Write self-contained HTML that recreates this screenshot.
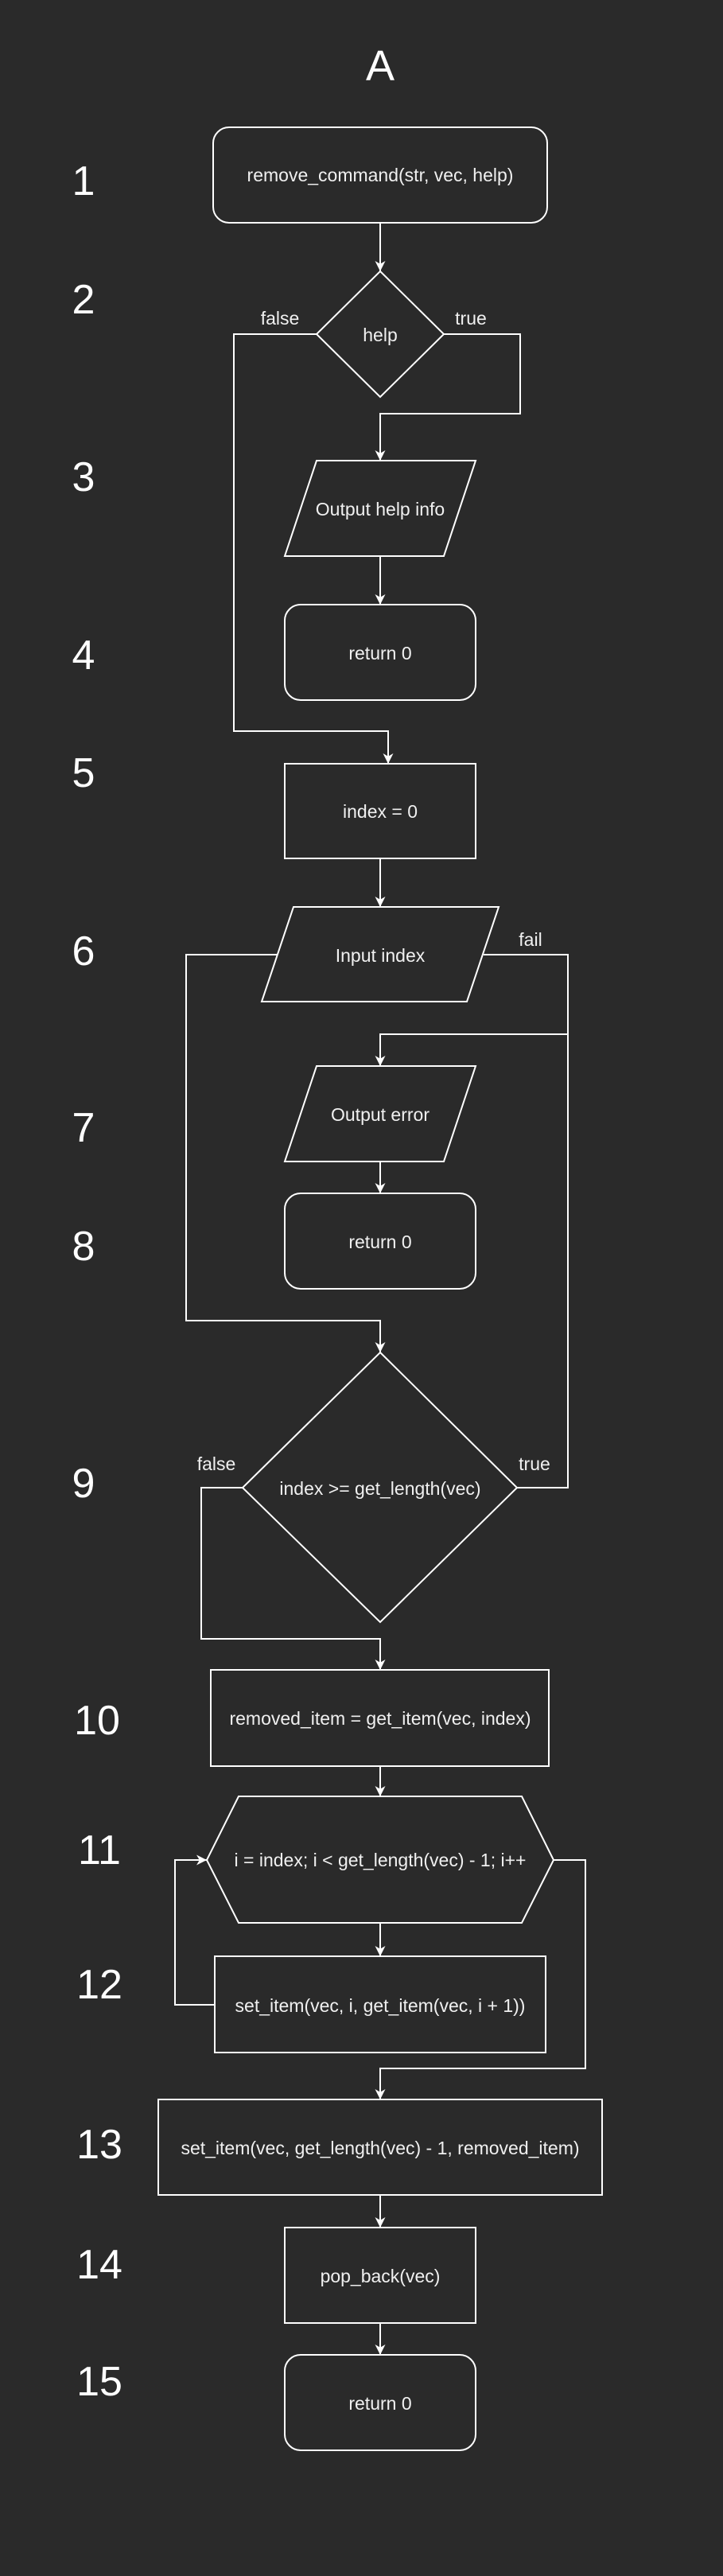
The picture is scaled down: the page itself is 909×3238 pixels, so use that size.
<!DOCTYPE html>
<html><head><meta charset="utf-8"><style>
html,body{margin:0;padding:0;background:#2a2a2a;}
svg{display:block;}
text{font-family:"Liberation Sans",Arial,sans-serif;fill:#f0f0f0;}
.n{font-size:23px;text-anchor:middle;dominant-baseline:central;}
.num{font-size:52px;text-anchor:middle;dominant-baseline:central;fill:#fff;}
.l{font-size:23px;text-anchor:middle;}
</style></head><body>
<svg width="909" height="3238" viewBox="0 0 909 3238" xmlns="http://www.w3.org/2000/svg">
<defs>
<marker id="a" viewBox="0 0 12 12" refX="12" refY="6" markerWidth="13" markerHeight="13" markerUnits="userSpaceOnUse" orient="auto">
<path d="M0,0 L12,6 L0,12 L3.5,6 z" fill="#fff"/>
</marker>
</defs>
<g fill="none" stroke="#fff" stroke-width="2">
<rect x="268" y="160" width="420" height="120" rx="20"/>
<polygon points="478,341 558,420 478,499 398,420"/>
<polygon points="398,579 598,579 558,699 358,699"/>
<rect x="358" y="760" width="240" height="120" rx="20"/>
<rect x="358" y="960" width="240" height="119"/>
<polygon points="369,1140 627,1140 587,1259 329,1259"/>
<polygon points="398,1340 598,1340 558,1460 358,1460"/>
<rect x="358" y="1500" width="240" height="120" rx="20"/>
<polygon points="478,1700 650,1870 478,2039 305,1870"/>
<rect x="265" y="2099" width="425" height="121"/>
<polygon points="300,2258 656,2258 696,2338 656,2417 300,2417 260,2338"/>
<rect x="270" y="2459" width="416" height="121"/>
<rect x="199" y="2639" width="558" height="120"/>
<rect x="358" y="2800" width="240" height="120"/>
<rect x="358" y="2960" width="240" height="120" rx="20"/>
</g>
<g fill="none" stroke="#fff" stroke-width="2" marker-end="url(#a)">
<path d="M478,280 V341"/>
<path d="M398,420 H294 V919 H488 V960"/>
<path d="M558,420 H654 V520 H478 V579"/>
<path d="M478,699 V760"/>
<path d="M478,1079 V1140"/>
<path d="M349,1200 H234 V1660 H478 V1700"/>
<path d="M714,1300 H478 V1340"/>
<path d="M478,1460 V1500"/>
<path d="M305,1870 H253 V2060 H478 V2099"/>
<path d="M478,2220 V2258"/>
<path d="M478,2417 V2459"/>
<path d="M270,2520 H220 V2338 H260"/>
<path d="M696,2338 H736 V2600 H478 V2639"/>
<path d="M478,2759 V2800"/>
<path d="M478,2920 V2960"/>
</g>
<path d="M608,1200 H714 V1870 H650" fill="none" stroke="#fff" stroke-width="2"/>
<text x="478" y="83" class="num" style="font-size:54px">A</text>
<text class="n" x="478" y="220">remove_command(str, vec, help)</text>
<text class="n" x="478" y="421">help</text>
<text class="n" x="478" y="640">Output help info</text>
<text class="n" x="478" y="821">return 0</text>
<text class="n" x="478" y="1020">index = 0</text>
<text class="n" x="478" y="1201">Input index</text>
<text class="n" x="478" y="1401">Output error</text>
<text class="n" x="478" y="1561">return 0</text>
<text class="n" x="478" y="1871">index &gt;= get_length(vec)</text>
<text class="n" x="478" y="2160">removed_item = get_item(vec, index)</text>
<text class="n" x="478" y="2338">i = index; i &lt; get_length(vec) - 1; i++</text>
<text class="n" x="478" y="2521">set_item(vec, i, get_item(vec, i + 1))</text>
<text class="n" x="478" y="2700">set_item(vec, get_length(vec) - 1, removed_item)</text>
<text class="n" x="478" y="2861">pop_back(vec)</text>
<text class="n" x="478" y="3021">return 0</text>
<text class="l" x="352" y="408">false</text>
<text class="l" x="592" y="408">true</text>
<text class="l" x="667" y="1189">fail</text>
<text class="l" x="272" y="1848">false</text>
<text class="l" x="672" y="1848">true</text>
<text class="num" x="105" y="228">1</text>
<text class="num" x="105" y="377">2</text>
<text class="num" x="105" y="600">3</text>
<text class="num" x="105" y="824">4</text>
<text class="num" x="105" y="972">5</text>
<text class="num" x="105" y="1196">6</text>
<text class="num" x="105" y="1418">7</text>
<text class="num" x="105" y="1567">8</text>
<text class="num" x="105" y="1865">9</text>
<text class="num" x="122" y="2163">10</text>
<text class="num" x="125" y="2326">11</text>
<text class="num" x="125" y="2495">12</text>
<text class="num" x="125" y="2696">13</text>
<text class="num" x="125" y="2847">14</text>
<text class="num" x="125" y="2994">15</text>
</svg>
</body></html>
